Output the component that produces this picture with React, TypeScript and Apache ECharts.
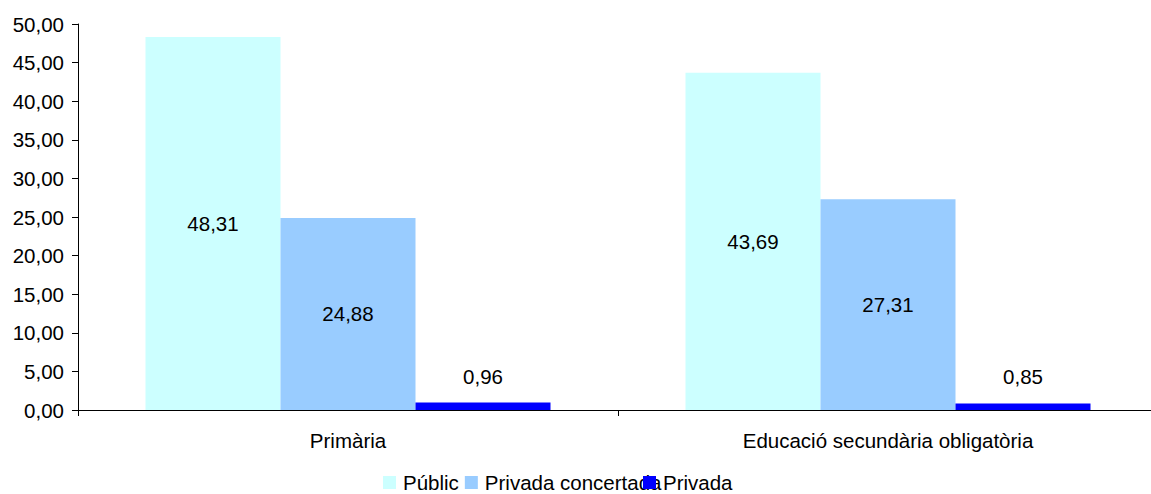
import React, { useEffect, useRef } from "react";
import * as echarts from "echarts";

const categories = ["Primària", "Educació secundària obligatòria"];
const seriesNames = ["Públic", "Privada concertada", "Privada"];
const publicValues = [48.31, 43.69];
const concertadaValues = [24.88, 27.31];
const privadaValues = [0.96, 0.85];
const colors = ["#CCFFFF", "#99CCFF", "#0000FF"];

const fmt = (v: number) => v.toFixed(2).replace(".", ",");
const FONT = "Liberation Sans, Arial, sans-serif";

export default function App() {
  const ref = useRef<HTMLDivElement>(null);
  useEffect(() => {
    document.body.style.margin = "0";
    const chart = echarts.init(ref.current!, null, { renderer: "svg" });
    const labelStyle = { color: "#000", fontSize: 20.5, fontFamily: FONT };
    const legendText = { ...labelStyle, lineHeight: 16, padding: [0, 0, 0, 2] };
    chart.setOption({
      animation: false,
      textStyle: { fontFamily: FONT },
      grid: { left: 78, right: -7, top: 24, bottom: 84, outerBoundsMode: "none" },
      legend: [
        {
          data: [seriesNames[0], seriesNames[1]],
          left: 378,
          top: 467,
          itemWidth: 13,
          itemHeight: 13,
          itemGap: 6,
          icon: "rect",
          textStyle: legendText,
        },
        {
          data: [seriesNames[2]],
          left: 638,
          top: 467,
          itemWidth: 13,
          itemHeight: 13,
          icon: "rect",
          textStyle: legendText,
        },
      ],
      xAxis: {
        type: "category",
        data: categories,
        axisLine: { lineStyle: { color: "#000", width: 1 } },
        axisTick: { show: true, length: 6, lineStyle: { color: "#000" } },
        axisLabel: { ...labelStyle, margin: 20 },
      },
      yAxis: {
        type: "value",
        min: 0,
        max: 50,
        interval: 5,
        splitLine: { show: false },
        axisLine: { show: true, lineStyle: { color: "#000", width: 1 } },
        axisTick: { show: true, length: 6, lineStyle: { color: "#000" } },
        axisLabel: { ...labelStyle, margin: 14, formatter: (v: number) => fmt(v) },
      },
      series: [
        {
          name: seriesNames[0],
          type: "bar",
          data: publicValues,
          itemStyle: { color: colors[0] },
          barGap: "0%",
          barCategoryGap: "25%",
          label: { show: true, position: "inside", ...labelStyle, formatter: (p: any) => fmt(p.value) },
        },
        {
          name: seriesNames[1],
          type: "bar",
          data: concertadaValues,
          itemStyle: { color: colors[1] },
          barGap: "0%",
          barCategoryGap: "25%",
          label: { show: true, position: "inside", ...labelStyle, formatter: (p: any) => fmt(p.value) },
        },
        {
          name: seriesNames[2],
          type: "bar",
          data: privadaValues,
          itemStyle: { color: colors[2] },
          barGap: "0%",
          barCategoryGap: "25%",
          label: { show: true, position: "top", distance: 16, ...labelStyle, formatter: (p: any) => fmt(p.value) },
        },
      ],
    });
    return () => chart.dispose();
  }, []);
  return <div ref={ref} style={{ width: 1151, height: 494 }} />;
}
